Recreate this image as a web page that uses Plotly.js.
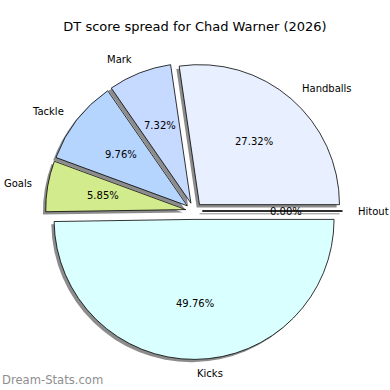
<!DOCTYPE html>
<html>
<head>
<meta charset="utf-8">
<script src="https://cdn.plot.ly/plotly-3.0.1.min.js"></script>
<style>html,body{margin:0;padding:0;background:#fff;}#chart{width:390px;height:390px;}</style>
</head>
<body>
<div id="chart"></div>
<script>
// ---- data ----
var categories = ["Handballs", "Mark", "Tackle", "Goals", "Kicks", "Hitout"];
var scoreValues = [56, 15, 20, 12, 102, 0];
var sliceColors = ["#e8f0ff", "#c6d9ff", "#b5d5ff", "#d2eb8c", "#d9ffff", "#e0e0e0"];
var chartTitle = "DT score spread for Chad Warner (2026)";
var watermark = "Dream-Stats.com";

// ---- geometry / style ----
var W = 390, H = 390;
var CX = 194, CY = 211, R = 140, PULL = 0.06;
var SHX = -2.8, SHY = 2.8; // shadow offset (px, screen)
var FONT = "DejaVu Sans, sans-serif";

function dom(cx, cy) {
  var half = R * (1 + PULL);
  return {
    x: [(cx - half) / W, (cx + half) / W],
    y: [1 - (cy + half) / H, 1 - (cy - half) / H]
  };
}

var total = scoreValues.reduce(function (a, b) { return a + b; }, 0);
var pulls = categories.map(function () { return PULL; });
// Plotly (counterclockwise) ends the first slice at `rotation`; shift so it starts at 3 o'clock
var rot = 90 - 360 * scoreValues[0] / total;

var shadow = {
  type: "pie", values: scoreValues, labels: categories, sort: false,
  direction: "counterclockwise", rotation: rot, pull: pulls,
  marker: { colors: categories.map(function () { return "#8c8c8c"; }), line: { width: 0 } },
  textinfo: "none", hoverinfo: "skip", showlegend: false,
  domain: dom(CX + SHX, CY + SHY)
};
var main = {
  type: "pie", values: scoreValues, labels: categories, sort: false,
  direction: "counterclockwise", rotation: rot, pull: pulls,
  marker: { colors: sliceColors, line: { color: "#000", width: 0.8 } },
  textinfo: "none", hoverinfo: "label+percent", showlegend: false,
  domain: dom(CX, CY)
};

function px(x) { return x / W; }
function py(y) { return 1 - y / H; }

var annotations = [];
var shapes = [];
var cum = 0;
for (var i = 0; i < categories.length; i++) {
  var v = scoreValues[i];
  var a0 = cum / total * 2 * Math.PI;
  cum += v;
  var a1 = cum / total * 2 * Math.PI;
  var am = (a0 + a1) / 2;
  var c = Math.cos(am), s = Math.sin(am);
  var ax = CX + PULL * R * c, ay = CY - PULL * R * s;
  annotations.push({
    xref: "paper", yref: "paper", x: px(ax + 0.6 * R * c), y: py(ay - 0.6 * R * s),
    xanchor: "center", yanchor: "middle", showarrow: false,
    text: (100 * v / total).toFixed(2) + "%", font: { family: FONT, size: 10, color: "#000" }
  });
  var lx = ax + 1.1 * R * c;
  annotations.push({
    xref: "paper", yref: "paper", x: px(lx), y: py(ay - 1.1 * R * s),
    xanchor: (lx - CX) > 0 ? "left" : "right", yanchor: "middle", showarrow: false,
    text: categories[i], font: { family: FONT, size: 10, color: "#000" }
  });
  if (v === 0) {
    shapes.push({ type: "line", xref: "paper", yref: "paper", layer: "below",
      x0: px(ax + SHX), y0: py(ay + SHY), x1: px(ax + SHX + R * c), y1: py(ay + SHY - R * s),
      line: { color: "#8c8c8c", width: 1 } });
    shapes.push({ type: "line", xref: "paper", yref: "paper", layer: "above",
      x0: px(ax), y0: py(ay), x1: px(ax + R * c), y1: py(ay - R * s),
      line: { color: "#000", width: 1 } });
  }
}

annotations.push({
  xref: "paper", yref: "paper", x: px(0), y: py(380), xanchor: "left", yanchor: "middle",
  showarrow: false, text: watermark, font: { family: FONT, size: 11.6, color: "#8e8e8e" }
});

var layout = {
  width: W, height: H, margin: { l: 0, r: 0, t: 0, b: 0 },
  paper_bgcolor: "#fff", plot_bgcolor: "#fff", showlegend: false,
  title: { text: chartTitle, x: 0.5, xanchor: "center", y: py(26), yanchor: "middle",
    font: { family: FONT, size: 13, color: "#000" } },
  annotations: annotations, shapes: shapes
};

Plotly.newPlot("chart", [shadow, main], layout, { displayModeBar: false, staticPlot: true });
</script>
</body>
</html>
